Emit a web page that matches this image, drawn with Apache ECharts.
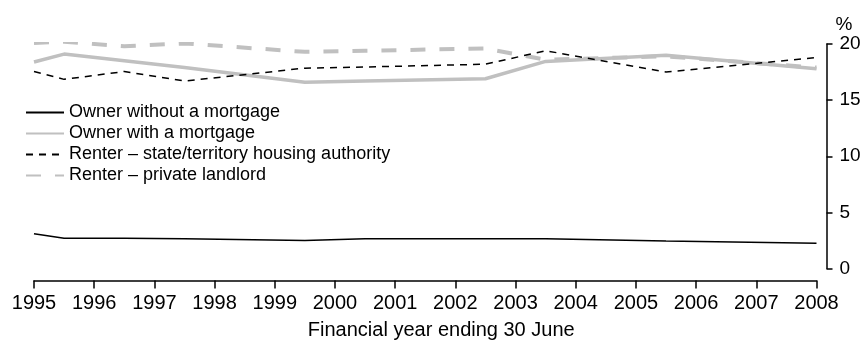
<!DOCTYPE html>
<html>
<head>
<meta charset="utf-8">
<script src="https://cdn.jsdelivr.net/npm/echarts@6/dist/echarts.min.js"></script>
<style>html,body{margin:0;padding:0;background:#fff;}#c{width:865px;height:340px;}</style>
</head>
<body>
<div id="c"></div>
<script>
// Financial year positions (x) at which values are recorded
const years = [1995, 1995.5, 1996.5, 1997.5, 1999.5, 2000.5, 2002.5, 2003.5, 2005.5, 2008];
const ownerOutright = [3.1, 2.7, 2.7, 2.65, 2.5, 2.65, 2.65, 2.65, 2.45, 2.25];
const ownerMortgage = [18.4, 19.1, 18.5, 17.9, 16.6, 16.7, 16.9, 18.45, 19.0, 17.8];
const renterState = [17.55, 16.85, 17.55, 16.7, 17.85, 17.95, 18.2, 19.4, 17.5, 18.8];
const renterPrivate = [20.1, 20.2, 19.8, 20.05, 19.3, 19.4, 19.6, 18.6, 18.9, 17.9];
const seriesNames = ['Owner without a mortgage', 'Owner with a mortgage', 'Renter – state/territory housing authority', 'Renter – private landlord'];
const xTickMin = 1995, xTickMax = 2008, xTickStep = 1;
const yTickMin = 0, yTickMax = 20, yTickStep = 5;

const FONT = "'Liberation Sans', Arial, sans-serif";
const pairs = arr => years.map((y, i) => [y, arr[i]]);

const chart = echarts.init(document.getElementById('c'), null, {renderer: 'canvas'});
chart.setOption({
  animation: false,
  backgroundColor: '#ffffff',
  textStyle: {fontFamily: FONT, color: '#000'},
  grid: {left: 34, right: 48.5, top: 44, bottom: 71.5, containLabel: false, outerBoundsMode: 'none'},
  legend: {
    orient: 'vertical', left: 25, top: 102, padding: 0, itemGap: 0,
    itemWidth: 38, itemHeight: 14,
    itemStyle: {opacity: 0},
    textStyle: {fontFamily: FONT, fontSize: 18, color: '#000', lineHeight: 21},
    data: seriesNames
  },
  xAxis: {
    type: 'value', min: xTickMin, max: xTickMax, interval: xTickStep,
    offset: 12,
    axisLine: {show: true, onZero: false, lineStyle: {color: '#000', width: 1.5}},
    axisTick: {show: true, length: 8, lineStyle: {color: '#000', width: 1.5}},
    axisLabel: {fontFamily: FONT, fontSize: 20, color: '#000', margin: 13, formatter: v => String(v)},
    splitLine: {show: false},
    name: 'Financial year ending 30 June', nameLocation: 'middle', nameGap: 40,
    nameTextStyle: {fontFamily: FONT, fontSize: 20, color: '#000', padding: [0, 0, 0, 32]}
  },
  yAxis: {
    type: 'value', position: 'right', min: yTickMin, max: yTickMax, interval: yTickStep,
    offset: 10,
    axisLine: {show: true, onZero: false, lineStyle: {color: '#000', width: 1.5}},
    axisTick: {show: true, length: 6, lineStyle: {color: '#000', width: 1.5}},
    axisLabel: {fontFamily: FONT, fontSize: 19, color: '#000', margin: 13},
    splitLine: {show: false},
    name: '%', nameLocation: 'end', nameGap: 10,
    nameTextStyle: {fontFamily: FONT, fontSize: 19, color: '#000', align: 'left', padding: [0, 0, 0, 9]}
  },
  series: [
    {name: seriesNames[0], type: 'line', data: pairs(ownerOutright), symbol: 'none', z: 4,
     lineStyle: {color: '#000', width: 1.5, type: 'solid'}, itemStyle: {color: '#000'}},
    {name: seriesNames[1], type: 'line', data: pairs(ownerMortgage), symbol: 'none', z: 2,
     lineStyle: {color: '#c0c0c0', width: 3.5, type: 'solid'}, itemStyle: {color: '#c0c0c0'}},
    {name: seriesNames[2], type: 'line', data: pairs(renterState), symbol: 'none', z: 5,
     lineStyle: {color: '#000', width: 1.5, type: [7, 6]}, itemStyle: {color: '#000'}},
    {name: seriesNames[3], type: 'line', data: pairs(renterPrivate), symbol: 'none', z: 3,
     lineStyle: {color: '#c0c0c0', width: 4, type: [15, 14]}, itemStyle: {color: '#c0c0c0'}}
  ]
});
</script>
</body>
</html>
